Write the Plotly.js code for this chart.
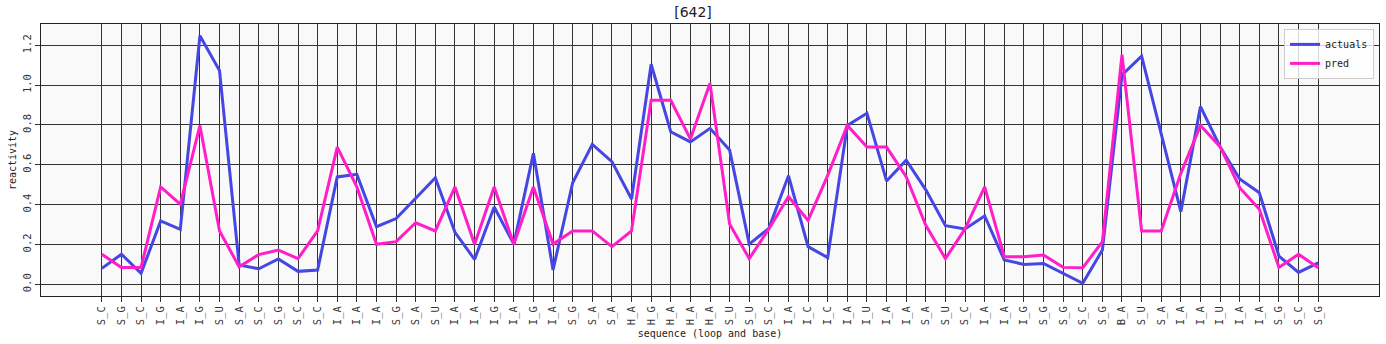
<!DOCTYPE html>
<html>
<head>
<meta charset="utf-8">
<script src="https://cdn.plot.ly/plotly-3.0.1.min.js"></script>
<style>html,body{margin:0;padding:0;background:#fff;}</style>
</head>
<body>
<div id="chart" style="width:1386px;height:344px;"></div>
<script>
const labels = ["S_C","S_G","S_C","I_G","I_A","I_G","S_U","S_A","S_C","S_G","S_C","S_C","I_A","I_A","I_A","S_G","S_A","S_U","I_A","I_A","I_G","I_A","I_G","I_A","S_G","S_A","S_A","H_A","H_G","H_A","H_A","H_A","S_U","S_U","S_C","I_A","I_C","I_C","I_A","I_U","I_A","I_A","S_A","S_U","S_C","I_A","I_A","I_G","S_G","S_G","S_C","S_G","B_A","S_U","S_A","I_A","I_A","I_U","I_A","I_A","S_G","S_C","S_G"];
const actuals = [0.080,0.151,0.055,0.318,0.276,1.248,1.073,0.097,0.078,0.127,0.065,0.072,0.539,0.552,0.289,0.330,0.432,0.535,0.261,0.125,0.388,0.202,0.658,0.072,0.510,0.703,0.616,0.428,1.105,0.766,0.715,0.783,0.674,0.202,0.281,0.545,0.189,0.134,0.798,0.859,0.519,0.623,0.474,0.294,0.278,0.343,0.122,0.100,0.105,0.055,0.005,0.172,1.051,1.146,0.758,0.365,0.892,0.691,0.529,0.460,0.142,0.060,0.108];
const pred = [0.151,0.085,0.085,0.489,0.402,0.797,0.268,0.088,0.149,0.172,0.129,0.268,0.689,0.489,0.201,0.214,0.309,0.268,0.489,0.201,0.489,0.201,0.489,0.202,0.268,0.268,0.189,0.268,0.924,0.924,0.730,1.009,0.303,0.129,0.278,0.440,0.321,0.547,0.798,0.689,0.689,0.540,0.296,0.129,0.278,0.489,0.139,0.139,0.147,0.085,0.083,0.214,1.153,0.268,0.268,0.557,0.798,0.691,0.485,0.377,0.085,0.151,0.083];
const yTicks = [0.0,0.2,0.4,0.6,0.8,1.0,1.2];

const idx = labels.map((_, i) => i);
const mono = "DejaVu Sans Mono, monospace";

const traces = [
  {x: idx, y: actuals, name: "actuals", type: "scatter", mode: "lines",
   line: {color: "#4646e4", width: 3}},
  {x: idx, y: pred, name: "pred", type: "scatter", mode: "lines",
   line: {color: "#ff1ec8", width: 3}}
];

const axisCommon = {
  showgrid: true, gridcolor: "#333333", gridwidth: 1,
  showline: true, linecolor: "#222222", linewidth: 1, mirror: true,
  ticks: "outside", ticklen: 5, tickcolor: "#333333", tickwidth: 1,
  zeroline: false,
  tickfont: {family: mono, size: 10.5, color: "#333333"}
};

const layout = {
  width: 1386, height: 344,
  margin: {l: 41, r: 7, t: 24, b: 48},
  paper_bgcolor: "#ffffff",
  plot_bgcolor: "#f9f9f9",
  showlegend: true,
  title: {text: "[642]", font: {family: "DejaVu Sans, sans-serif", size: 14, color: "#222222"},
          x: 0.5, xanchor: "center", y: 0.965, yanchor: "middle"},
  xaxis: Object.assign({}, axisCommon, {
    range: [-3.1, 65.1],
    tickvals: idx, ticktext: labels, tickangle: -90,
    title: {text: "sequence (loop and base)", font: {family: mono, size: 10, color: "#222222"}, standoff: 5}
  }),
  yaxis: Object.assign({}, axisCommon, {
    range: [-0.0587, 1.307],
    tickvals: yTicks, ticktext: yTicks.map(v => v.toFixed(1)), tickangle: -90,
    title: {text: "reactivity", font: {family: mono, size: 10, color: "#222222"}, standoff: 2}
  }),
  legend: {
    x: 0.9963, xanchor: "right", y: 0.982, yanchor: "top",
    bgcolor: "rgba(255,255,255,0.8)", bordercolor: "#cccccc", borderwidth: 1,
    font: {family: mono, size: 10, color: "#222222"},
    tracegroupgap: 0
  }
};

Plotly.newPlot("chart", traces, layout, {displayModeBar: false, staticPlot: true});
</script>
</body>
</html>
